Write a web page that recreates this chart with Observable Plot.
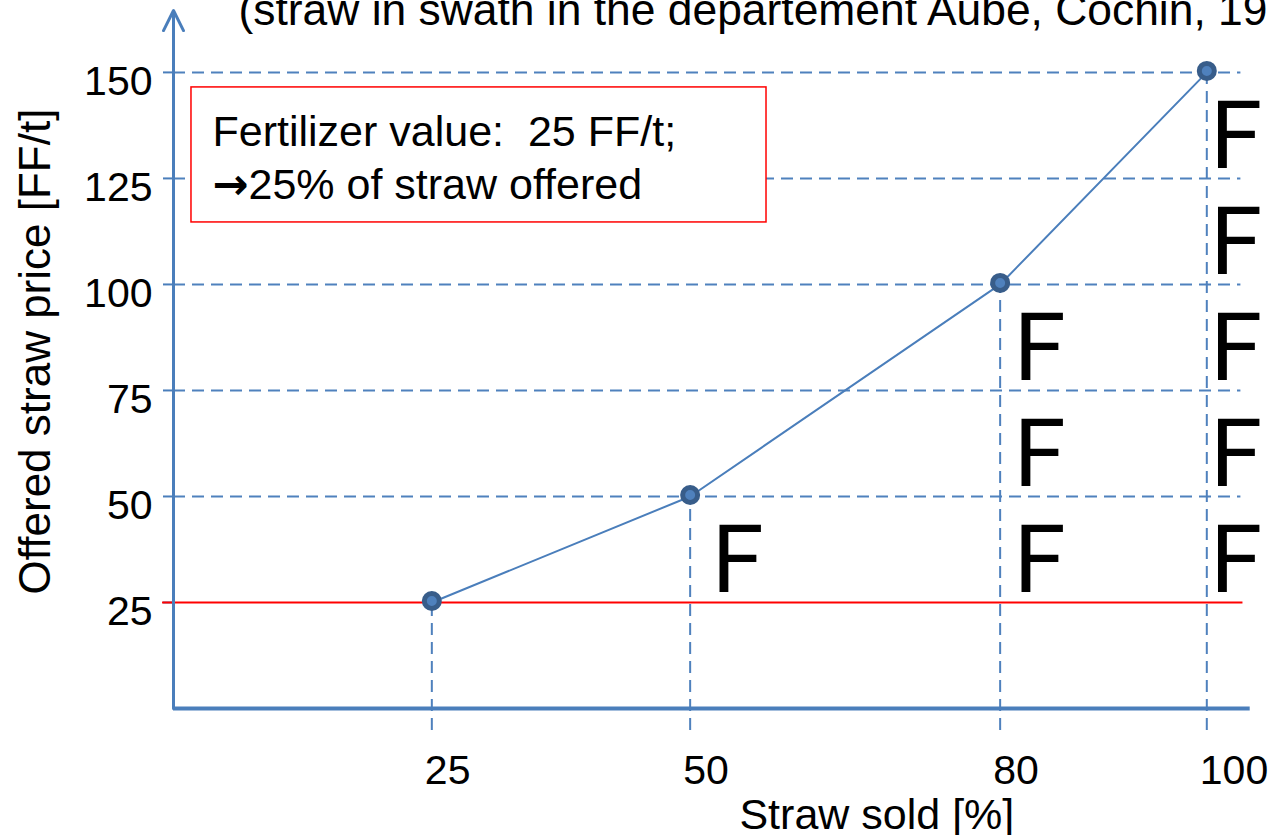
<!DOCTYPE html>
<html><head><meta charset="utf-8">
<script src="https://cdn.jsdelivr.net/npm/d3@7"></script>
<script src="https://cdn.jsdelivr.net/npm/@observablehq/plot@0.6"></script>
<style>
html,body{margin:0;padding:0;background:#fff;overflow:hidden}
#chart svg{display:block}
</style></head><body><div id="chart"></div>
<script>
// ---- data ----
const strawSold = [25, 50, 80, 100];          // % of straw sold
const offeredPrice = [25, 50, 100, 150];      // FF/t
const xTicks = [25, 50, 80, 100];
const yTicks = [25, 50, 75, 100, 125, 150];
const gridY = [50, 75, 100, 125, 150];
const fertilizerValue = 25;
const fColumns = [50, 80, 100];               // columns carrying "F" markers
const fCounts = [1, 3, 5];                    // number of "F" per column
const titleText = "(straw in swath in the departement Aube, Cochin, 19";
const noteLines = ["Fertilizer value:  25 FF/t;", "\u219225% of straw offered"];
const xLabel = "Straw sold [%]";
const yLabel = "Offered straw price [FF/t]";

// ---- derived tables ----
const points = strawSold.map((x, i) => ({x, y: offeredPrice[i]}));
const fMarks = fColumns.flatMap((col, j) => d3.range(fCounts[j]).map(k => ({col, band: 25 * (k + 1)})));

const blue = "#4A7EBB", lightBlue = "#4F81BD", dark = "#385D8A", red = "#FF0000";
const xMax = 104.2, yMax = 164.6;
const font = "'Liberation Sans', Arial, sans-serif";
const fDx = [21.5, 13.5, 3.5];

const chart = Plot.plot({
  width: 1271, height: 835,
  marginLeft: 173, marginRight: 21.3, marginTop: 10, marginBottom: 127,
  x: {domain: [0, xMax], axis: null},
  y: {domain: [0, yMax], axis: null},
  style: {fontFamily: font, background: "white", overflow: "visible", color: "black"},
  marks: [
    Plot.ruleY(gridY, {y: d => d, x1: 0, x2: 103.3, stroke: lightBlue, strokeWidth: 2, strokeDasharray: "12,7"}),
    Plot.ruleX(points, {x: "x", y1: -5.2, y2: "y", stroke: lightBlue, strokeWidth: 2, strokeDasharray: "12,7"}),
    Plot.axisY(yTicks, {anchor: "left", tickSize: 10, stroke: blue, strokeWidth: 2, fill: "none", label: null}),
    Plot.ruleY([fertilizerValue], {y: d => d, x1: -1.06, x2: 103.5, stroke: red, strokeWidth: 2}),
    Plot.ruleY([0], {y: d => d, x1: 0, x2: xMax, stroke: blue, strokeWidth: 4}),
    Plot.arrow([0], {x1: 0, x2: 0, y1: 0, y2: yMax, stroke: blue, strokeWidth: 3, headLength: 11.2, headAngle: 53}),
    Plot.rect([0], {x1: 1.74, x2: 57.39, y1: 114.62, y2: 146.46, fill: "white", stroke: red, strokeWidth: 1.5}),
    Plot.line(points, {x: "x", y: "y", stroke: blue, strokeWidth: 2}),
    Plot.dot(points, {x: "x", y: "y", r: 7.5, fill: lightBlue, stroke: dark, strokeWidth: 5, dy: -1.5}),
    ...fColumns.map((col, j) => Plot.text(fMarks.filter(d => d.col === col), {
      x: "col", y: "band", text: () => "F", dx: fDx[j], dy: -10.6,
      textAnchor: "start", lineAnchor: "bottom", fontSize: 94, fontFamily: "Roboto", fill: "black"
    })),
    Plot.text(yTicks, {y: d => d, text: d => String(d), frameAnchor: "left", dx: -21, dy: 22.5,
      textAnchor: "end", lineAnchor: "bottom", fontSize: 41, fill: "black"}),
    Plot.text(xTicks, {x: d => d, text: d => String(d), frameAnchor: "bottom", dx: -7, dy: 75,
      textAnchor: "start", lineAnchor: "bottom", fontSize: 41, fill: "black"}),
    Plot.text([xLabel], {text: d => d, frameAnchor: "bottom", dx: 165, dy: 120,
      textAnchor: "middle", lineAnchor: "bottom", fontSize: 43, fill: "black"}),
    Plot.text([yLabel], {text: d => d, frameAnchor: "left", dx: -124, dy: -8, rotate: -90,
      textAnchor: "middle", lineAnchor: "bottom", fontSize: 44, fill: "black"}),
    Plot.text([noteLines.join("\n")], {text: d => d, frameAnchor: "top-left", dx: 39, dy: 188,
      textAnchor: "start", lineAnchor: "bottom", lineHeight: 53 / 43, fontSize: 43, fill: "black"}),
    Plot.text([titleText], {text: d => d, frameAnchor: "top-left", dx: 65, dy: 14,
      textAnchor: "start", lineAnchor: "bottom", fontSize: 44.4, fill: "black"})
  ]
});

// render the arrow glyph of the note in a bolder face, as in the original
d3.select(chart).selectAll("tspan").each(function () {
  const t = this.textContent;
  if (t.startsWith("\u2192")) {
    this.textContent = "";
    d3.select(this).append("tspan").attr("font-family", "'DejaVu Sans'").attr("font-weight", "bold").text("\u2192");
    d3.select(this).append("tspan").text(t.slice(1));
  }
});
document.getElementById("chart").appendChild(chart);
</script></body></html>
